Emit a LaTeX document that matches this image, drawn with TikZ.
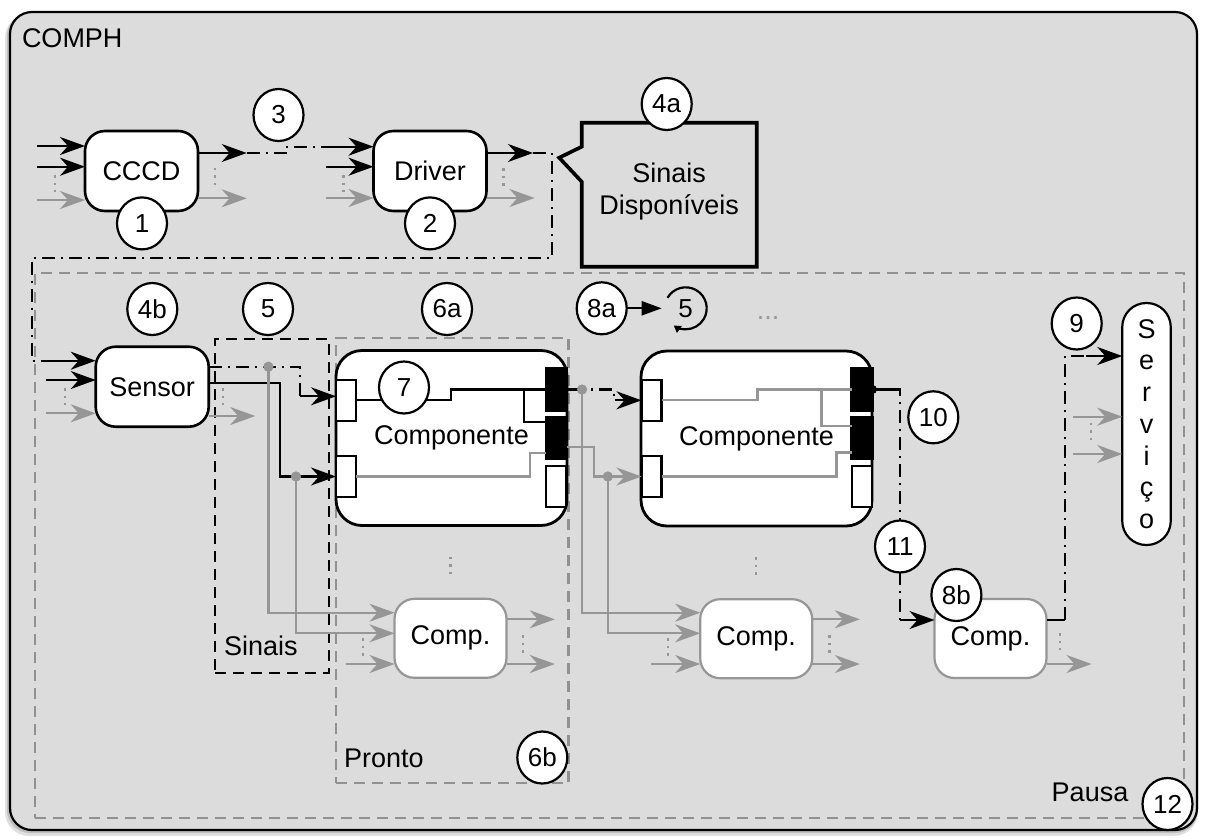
\documentclass[tikz,border=0pt]{standalone}
\usepackage{fontspec}
\setmainfont{Liberation Sans}
\usetikzlibrary{arrows.meta,shapes.geometric,calc}

\definecolor{panel}{RGB}{220,220,220}
\definecolor{wiregray}{RGB}{150,150,150}
\definecolor{framegray}{RGB}{145,145,145}

\newcommand\figlabelsize{\fontsize{27}{32}\selectfont}
\newcommand\fignumsize{\fontsize{26}{28}\selectfont}

\tikzset{
  every node/.style={inner sep=0pt, outer sep=0pt},
  unitbox/.style={draw, line width=2.6pt, fill=white, rounded corners=20pt,
    minimum width=113pt, minimum height=80pt, font=\figlabelsize},
  compbox/.style={draw, line width=2.8pt, fill=white, rounded corners=26pt,
    minimum width=231pt, minimum height=175pt, font=\figlabelsize},
  minibox/.style={draw=wiregray, line width=2.2pt, fill=white, rounded corners=20pt,
    minimum width=112pt, minimum height=79pt, font=\figlabelsize},
  num/.style={ellipse, draw, line width=2.2pt, fill=white,
    minimum width=50pt, minimum height=52pt, font=\fignumsize},
  portw/.style={draw, line width=2.2pt, fill=white, minimum width=20pt, minimum height=41pt},
  portb/.style={draw, line width=2.2pt, fill=black, minimum width=21pt, minimum height=42pt},
  wire/.style={line width=2.2pt},
  gwire/.style={line width=2.2pt, draw=wiregray},
  arr/.style={wire, -{Stealth[length=25pt,width=18pt,inset=8pt]}},
  garr/.style={gwire, -{Stealth[length=25pt,width=18pt,inset=8pt]}},
  dashdot/.style={line width=2.2pt, dash pattern=on 13pt off 6pt on 2pt off 6pt},
  gdots/.style={line width=2.2pt, draw=wiregray, dash pattern=on 2.5pt off 5pt},
  region/.style={line width=2.2pt, dash pattern=on 11pt off 7pt},
  tap/.style={circle, fill=wiregray, minimum size=10pt},
  lbl/.style={font=\figlabelsize},
}

\begin{document}
\begin{tikzpicture}[x=1pt,y=-1pt]
\useasboundingbox (0,0) rectangle (1205,839);

% soft shadow and outer frame
\fill[black!12, rounded corners=24pt] (5,14) rectangle (1198,836);
\fill[black!25, rounded corners=23pt] (7,13) rectangle (1198,833);
\node[draw, line width=2.2pt, fill=panel, rounded corners=22pt,
      minimum width=1187pt, minimum height=818pt] (comph) at (603.5,421) {};
\node[lbl, anchor=west] (comphlabel) at (22,38) {COMPH};

% grouping regions
\node[region, draw=framegray, minimum width=1149pt, minimum height=545pt] (pausa) at (609.5,545.8) {};
\node[region, draw=black, minimum width=114.3pt, minimum height=333.4pt] (sinais) at (272.2,506) {};
\node[region, draw=framegray, minimum width=232.8pt, minimum height=445.3pt] (pronto) at (452.1,560.7) {};
\node[lbl, anchor=west] (sinaislabel) at (224,646) {Sinais};
\node[lbl, anchor=west] (prontolabel) at (344,758) {Pronto};
\node[lbl] (pausalabel) at (1090,792) {Pausa};

% units of the top chain
\node[unitbox] (cccd) at (141.5,171) {CCCD};
\node[unitbox] (driver) at (430,171) {Driver};
\node[unitbox] (sensor) at (152.2,386.7) {Sensor};

% available-signals callout
\node[lbl, align=center, minimum width=175pt, minimum height=144pt] (disp) at (669.2,192) {Sinais\\Disponíveis};
\draw[line width=3.6pt, line join=miter]
  ($(disp.north west)+(0,2.7)$) -- ($(disp.north east)+(0,2.7)$) -- ($(disp.south east)+(0,2.7)$)
  -- ($(disp.south west)+(0,2.7)$)
  -- ($(disp.north west)+(0,61.7)$) -- ($(disp.north west)+(-22.5,37.7)$)
  -- ($(disp.north west)+(0,26.7)$) -- cycle;

% components with their ports
\node[compbox] (ca) at (451.5,438) {Componente};
\node[compbox] (cb) at (756.5,438.5) {Componente};
\foreach \c/\dx in {ca/0, cb/305.5} {
  \node[portw] (\c-i1) at ({346+\dx},400.3) {};
  \node[portw] (\c-i2) at ({346+\dx},476.5) {};
  \node[portb] (\c-oa) at ({556.5+\dx},389.5) {};
  \node[portb] (\c-ob) at ({556.5+\dx},438) {};
  \node[portw] (\c-oc) at ({556.2+\dx},486.5) {};
}
% internal wiring, active component
\draw[wire] (ca-i1.east) -- ++(95,0) |- (ca-oa.west);
\draw[wire] ($(ca-oa.west)+(-22,0)$) |- ($(ca-ob.north west)+(0,5)$);
\draw[gwire] (ca-i2.east) -- ++(174,0) |- ($(ca-ob.west)+(0,15)$);
% internal wiring, idle component
\draw[gwire] (cb-i1.east) -- ++(96,0) |- (cb-oa.west);
\draw[gwire] ($(cb-oa.west)+(-30,0)$) |- ($(cb-ob.north west)+(0,9)$);
\draw[gwire] (cb-i2.east) -- ++(175,0) |- ($(cb-ob.west)+(0,14.5)$);

% small components and the service
\node[minibox] (qa) at (450.5,638.3) {Comp.};
\node[minibox] (qb) at (756.2,638.7) {Comp.};
\node[minibox] (qc) at (990.5,638.5) {Comp.};
\node[draw, line width=2.2pt, fill=white, rounded corners=24pt, minimum width=48.5pt,
      minimum height=242pt, align=center, font=\fontsize{27}{31.7}\selectfont]
      (serv) at (1146.5,424) {S\\e\\r\\v\\i\\ç\\o};

% CCCD interface
\draw[arr] ($(cccd.west)+(-48,-25)$) -- ($(cccd.west)+(0,-25)$);
\draw[arr] ($(cccd.west)+(-48,-4.3)$) -- ($(cccd.west)+(0,-4.3)$);
\draw[garr] ($(cccd.west)+(-48,29)$) -- ($(cccd.west)+(0,29)$);
\draw[gdots] ($(cccd.west)+(-30,4)$) -- ++(0,17);
\draw[arr] ($(cccd.east)+(0,-18)$) -- ++(48.7,0) coordinate (c3a);
\draw[garr] ($(cccd.east)+(0,27.3)$) -- ++(48.7,0);
\draw[gdots] ($(cccd.east)+(17,-3.3)$) -- ++(0,19);
\draw[dashdot] (c3a) -- ++(40,0) |- ($(driver.west)+(-48,-24.3)$);

% Driver interface
\draw[arr] ($(driver.west)+(-48,-24.3)$) -- ($(driver.west)+(0,-24.3)$);
\draw[arr] ($(driver.west)+(-48,-4.3)$) -- ($(driver.west)+(0,-4.3)$);
\draw[garr] ($(driver.west)+(-48,27)$) -- ($(driver.west)+(0,27)$);
\draw[gdots] ($(driver.west)+(-30,4)$) -- ++(0,17);
\draw[arr] ($(driver.east)+(0,-18)$) -- ++(46.5,0) coordinate (c4a);
\draw[garr] ($(driver.east)+(0,27)$) -- ++(48,0);
\draw[gdots] ($(driver.east)+(17,-3)$) -- ++(0,19);
\coordinate (bendL) at (31.7,258.3);
\draw[dashdot] (c4a) -- ++(19,0) |- (bendL) |- ($(sensor.west)+(-50,-26)$);

% Sensor interface
\draw[arr] ($(sensor.west)+(-50,-26)$) -- ($(sensor.west)+(0,-26)$);
\draw[arr] ($(sensor.west)+(-50,-6.7)$) -- ($(sensor.west)+(0,-6.7)$);
\draw[garr] ($(sensor.west)+(-50,26.6)$) -- ($(sensor.west)+(0,26.6)$);
\draw[gdots] ($(sensor.west)+(-30.7,1.3)$) -- ++(0,17);
\draw[dashdot] ($(sensor.east)+(0,-20)$) -| ($(ca-i1.west)+(-36,-4)$);
\draw[arr] ($(ca-i1.west)+(-36,-4)$) -- ($(ca-i1.west)+(0,-4)$);
\draw[arr] ($(sensor.east)+(0,-4)$) -| ($(ca-i2.west)+(-56,0)$) -- (ca-i2.west);
\draw[garr] ($(sensor.east)+(0,29.3)$) -- ++(46.5,0);
\draw[gdots] ($(sensor.east)+(14,1.3)$) -- ++(0,17);

% signal taps towards the first small component
\node[tap] (tap1) at ($(sensor.east)+(59.7,-20)$) {};
\node[tap] (tap2) at ($(ca-i2.west)+(-40,0)$) {};
\draw[garr] (tap1.center) |- ($(qa.west)+(0,-25.6)$);
\draw[garr] (tap2.center) |- ($(qa.west)+(0,-5)$);
\node[tap] at (tap1) {};
\node[tap] at (tap2) {};

% first component outputs
\node[tap] (tap3) at ($(ca-oa.east)+(15,0)$) {};
\draw[wire] (ca-oa.east) -- (tap3.center);
\draw[dashdot, dash phase=10pt] (tap3.center) -- ++(32,0) |- ($(cb-i1.west)+(-27,0)$);
\draw[arr] ($(cb-i1.west)+(-27,0)$) -- (cb-i1.west);
\draw[garr] ($(ca-ob.east)+(0,8.7)$) -| ($(cb-i2.west)+(-47.7,0)$) -- (cb-i2.west);
\node[tap] (tap4) at ($(cb-i2.west)+(-33.7,0)$) {};
\draw[garr] (tap3.center) |- ($(qb.west)+(0,-26)$);
\draw[garr] (tap4.center) |- ($(qb.west)+(0,-5.4)$);
\node[tap] at (tap3) {};
\node[tap] at (tap4) {};

% second component output to the selected small component
\draw[wire] (cb-oa.east) -- ++(21,0) coordinate (c10a);
\node[circle, fill=black, minimum size=9pt] (jn) at (cb-oa.east) {};
\draw[dashdot] (c10a) -| ($(qc.west)+(-34.3,-18.5)$);
\draw[arr] ($(qc.west)+(-34.3,-18.5)$) -- ($(qc.west)+(0,-18.5)$);

% selected small component to the service
\draw[wire] ($(qc.east)+(0,-18.5)$) -- ++(18.5,0) coordinate (c9a);
\draw[dashdot] (c9a) |- ($(serv.west)+(-36,-68)$);
\draw[arr] ($(serv.west)+(-36,-68)$) -- ($(serv.west)+(0,-68)$);
\draw[garr] ($(qc.east)+(0,25.5)$) -- ++(45,0);
\draw[gdots] ($(qc.east)+(13.5,-5.5)$) -- ++(0,17);
\draw[garr] ($(serv.west)+(-49,-7.3)$) -- ($(serv.west)+(0,-7.3)$);
\draw[garr] ($(serv.west)+(-49,30)$) -- ($(serv.west)+(0,30)$);
\draw[gdots] ($(serv.west)+(-31.6,-1.3)$) -- ++(0,17.3);

% small component stubs
\draw[garr] ($(qa.west)+(-48.8,25.7)$) -- ($(qa.west)+(0,25.7)$);
\draw[gdots] ($(qa.west)+(-31.2,-0.3)$) -- ++(0,18.7);
\draw[garr] ($(qa.east)+(0,-19)$) -- ++(48.3,0);
\draw[garr] ($(qa.east)+(0,25.7)$) -- ++(48.3,0);
\draw[gdots] ($(qa.east)+(16.6,-3.3)$) -- ++(0,18.3);
\draw[gdots] ($(qa.north)+(0,-42)$) -- ++(0,18);

\draw[garr] ($(qb.west)+(-49,25.3)$) -- ($(qb.west)+(0,25.3)$);
\draw[gdots] ($(qb.west)+(-32,-0.7)$) -- ++(0,18.7);
\draw[garr] ($(qb.east)+(0,-19.4)$) -- ++(47.7,0);
\draw[garr] ($(qb.east)+(0,25.3)$) -- ++(47.7,0);
\draw[gdots] ($(qb.east)+(17.3,-3.7)$) -- ++(0,18.3);
\draw[gdots] ($(qb.north)+(0,-42)$) -- ++(0,18);

\node[lbl, text=wiregray] (more) at (768,317.7) {...};

% step markers
\node[num] (n1) at (142,223.4) {1};
\node[num] (n2) at (430,223.4) {2};
\node[num] (n3) at (278.5,115) {3};
\node[num] (n4a) at (666.7,104) {4a};
\node[num] (n4b) at (152.3,309) {4b};
\node[num] (n5) at (268,309) {5};
\node[num] (n6a) at (447,309) {6a};
\node[num] (n7) at (404,387.5) {7};
\node[num] (n8a) at (601.7,308.3) {8a};
\node[font=\fignumsize] (n5b) at (685.7,308.3) {5};
\draw[wire, -{Triangle[length=20pt,width=14pt]}] (n8a.east) -- ($(n5b.center)+(-24,0)$);
\draw[wire, -{Triangle[length=7pt,width=8pt]}] ($(n5b.center)+(210:21)$) arc[start angle=210, end angle=485, radius=21];
\node[num] (n6b) at (542.3,757.5) {6b};
\node[num] (n8b) at (956.4,595) {8b};
\node[num] (n9) at (1076.7,323.5) {9};
\node[num] (n10) at (933.3,417.3) {10};
\node[num] (n11) at (900,546.5) {11};
\node[num] (n12) at (1167.5,804) {12};
\end{tikzpicture}
\end{document}
